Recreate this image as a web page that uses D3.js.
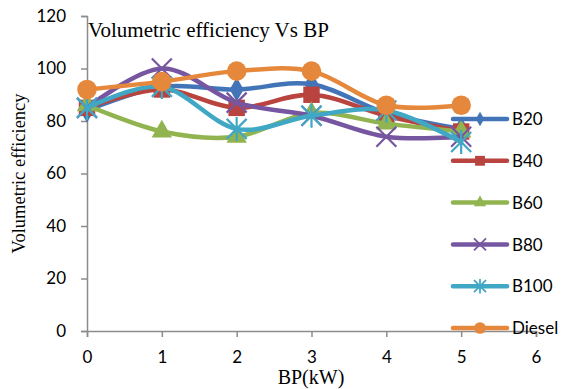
<!DOCTYPE html>
<html>
<head>
<meta charset="utf-8">
<script src="https://cdn.jsdelivr.net/npm/d3@7/dist/d3.min.js"></script>
<style>
  html, body { margin: 0; padding: 0; background: #fff; }
  svg { display: block; }
</style>
</head>
<body>
<svg id="chart" width="565" height="389"></svg>
<script>
// Brake power (kW) on the x axis
const bp = [0, 1, 2, 3, 4, 5];

// Volumetric efficiency (%) for each fuel blend
const b20    = [84, 93, 92, 94, 83, 77];
const b40    = [85, 92, 85, 90, 82, 76];
const b60    = [86, 76, 74, 83, 79, 76];
const b80    = [85, 100, 87, 82, 74, 74];
const b100   = [85, 93, 77, 82, 84, 72];
const diesel = [92, 95, 99, 99, 86, 86];

const seriesNames = ["B20", "B40", "B60", "B80", "B100", "Diesel"];
const xTicks = [0, 1, 2, 3, 4, 5, 6];
const yTicks = [0, 20, 40, 60, 80, 100, 120];

const series = [
  { name: seriesNames[0], values: b20,    color: "#4275B8", marker: "diamond" },
  { name: seriesNames[1], values: b40,    color: "#B9433F", marker: "square" },
  { name: seriesNames[2], values: b60,    color: "#91B450", marker: "triangle" },
  { name: seriesNames[3], values: b80,    color: "#7656A0", marker: "cross" },
  { name: seriesNames[4], values: b100,   color: "#40A7C4", marker: "star" },
  { name: seriesNames[5], values: diesel, color: "#E5883C", marker: "circle" }
];

const svg = d3.select("#chart");
const x = d3.scaleLinear().domain([0, 6]).range([87, 536]);
const y = d3.scaleLinear().domain([0, 120]).range([331, 16]);

const axisColor = "#8c8c8c";
const tickFont = "'Lato', 'Open Sans', sans-serif";
const serif = "'Liberation Serif', 'Times New Roman', serif";

// Axes
const yAxis = svg.append("g")
  .attr("transform", `translate(${x(0)},0)`)
  .call(d3.axisLeft(y).tickValues(yTicks).tickSize(6).tickPadding(15).tickFormat(d3.format("d")));
const xAxis = svg.append("g")
  .attr("transform", `translate(0,${y(0)})`)
  .call(d3.axisBottom(x).tickValues(xTicks).tickSize(6).tickPadding(11).tickFormat(d3.format("d")));

[yAxis, xAxis].forEach(g => {
  g.select(".domain").attr("stroke", axisColor).attr("stroke-width", 1.5);
  g.selectAll(".tick line").attr("stroke", axisColor).attr("stroke-width", 1.5);
  g.selectAll(".tick text")
    .attr("fill", "#000")
    .style("font-family", tickFont)
    .style("font-size", "17px");
});
xAxis.selectAll(".tick text").attr("dy", "0.9em");

// Marker shapes
function markerPath(type) {
  switch (type) {
    case "diamond":  return d3.symbol().type(d3.symbolDiamond).size(170)();
    case "square":   return d3.symbol().type(d3.symbolSquare).size(270)();
    case "triangle": return d3.symbol().type(d3.symbolTriangle).size(180)();
    case "circle":   return d3.symbol().type(d3.symbolCircle).size(300)();
    default: return null;
  }
}

function drawMarker(g, type, cx, cy, color, scale) {
  const s = scale || 1;
  if (type === "cross" || type === "star") {
    const r = 10 * s;
    const p = d3.path();
    p.moveTo(cx - r, cy - r); p.lineTo(cx + r, cy + r);
    p.moveTo(cx - r, cy + r); p.lineTo(cx + r, cy - r);
    if (type === "star") {
      p.moveTo(cx, cy - r * 1.2); p.lineTo(cx, cy + r * 1.2);
    }
    g.append("path").attr("d", p.toString())
      .attr("stroke", color).attr("stroke-width", 2.2 * Math.max(s, 0.8)).attr("fill", "none");
  } else {
    g.append("path")
      .attr("d", markerPath(type))
      .attr("transform", `translate(${cx},${cy}) scale(${s})`)
      .attr("fill", color);
  }
}

const line = d3.line()
  .x((d, i) => x(bp[i]))
  .y(d => y(d))
  .curve(d3.curveCatmullRom.alpha(0));

const plot = svg.append("g");
series.forEach(s => {
  const g = plot.append("g");
  g.append("path")
    .attr("d", line(s.values))
    .attr("fill", "none")
    .attr("stroke", s.color)
    .attr("stroke-width", 4.5)
    .attr("stroke-linecap", "round");
  s.values.forEach((v, i) => drawMarker(g, s.marker, x(bp[i]), y(v), s.color, 1));
});

// Legend
const legend = svg.append("g");
series.forEach((s, i) => {
  const ly = 119 + i * 41.8;
  const g = legend.append("g");
  g.append("line")
    .attr("x1", 453).attr("x2", 507).attr("y1", ly).attr("y2", ly)
    .attr("stroke", s.color).attr("stroke-width", 4.5).attr("stroke-linecap", "round");
  drawMarker(g, s.marker, 480, ly, s.color, 0.6);
  g.append("text")
    .attr("x", 512).attr("y", ly).attr("dy", "0.36em")
    .style("font-family", tickFont).style("font-size", "17px")
    .text(s.name);
});

// Titles
svg.append("text")
  .attr("x", 88).attr("y", 37)
  .style("font-family", serif).style("font-size", "21px")
  .text("Volumetric efficiency Vs BP");

svg.append("text")
  .attr("transform", `translate(25,${(y(0) + y(120)) / 2}) rotate(-90)`)
  .attr("text-anchor", "middle")
  .style("font-family", serif).style("font-size", "18.5px")
  .text("Volumetric efficiency");

svg.append("text")
  .attr("x", 311).attr("y", 384)
  .attr("text-anchor", "middle")
  .style("font-family", serif).style("font-size", "20px")
  .text("BP(kW)");
</script>
</body>
</html>
